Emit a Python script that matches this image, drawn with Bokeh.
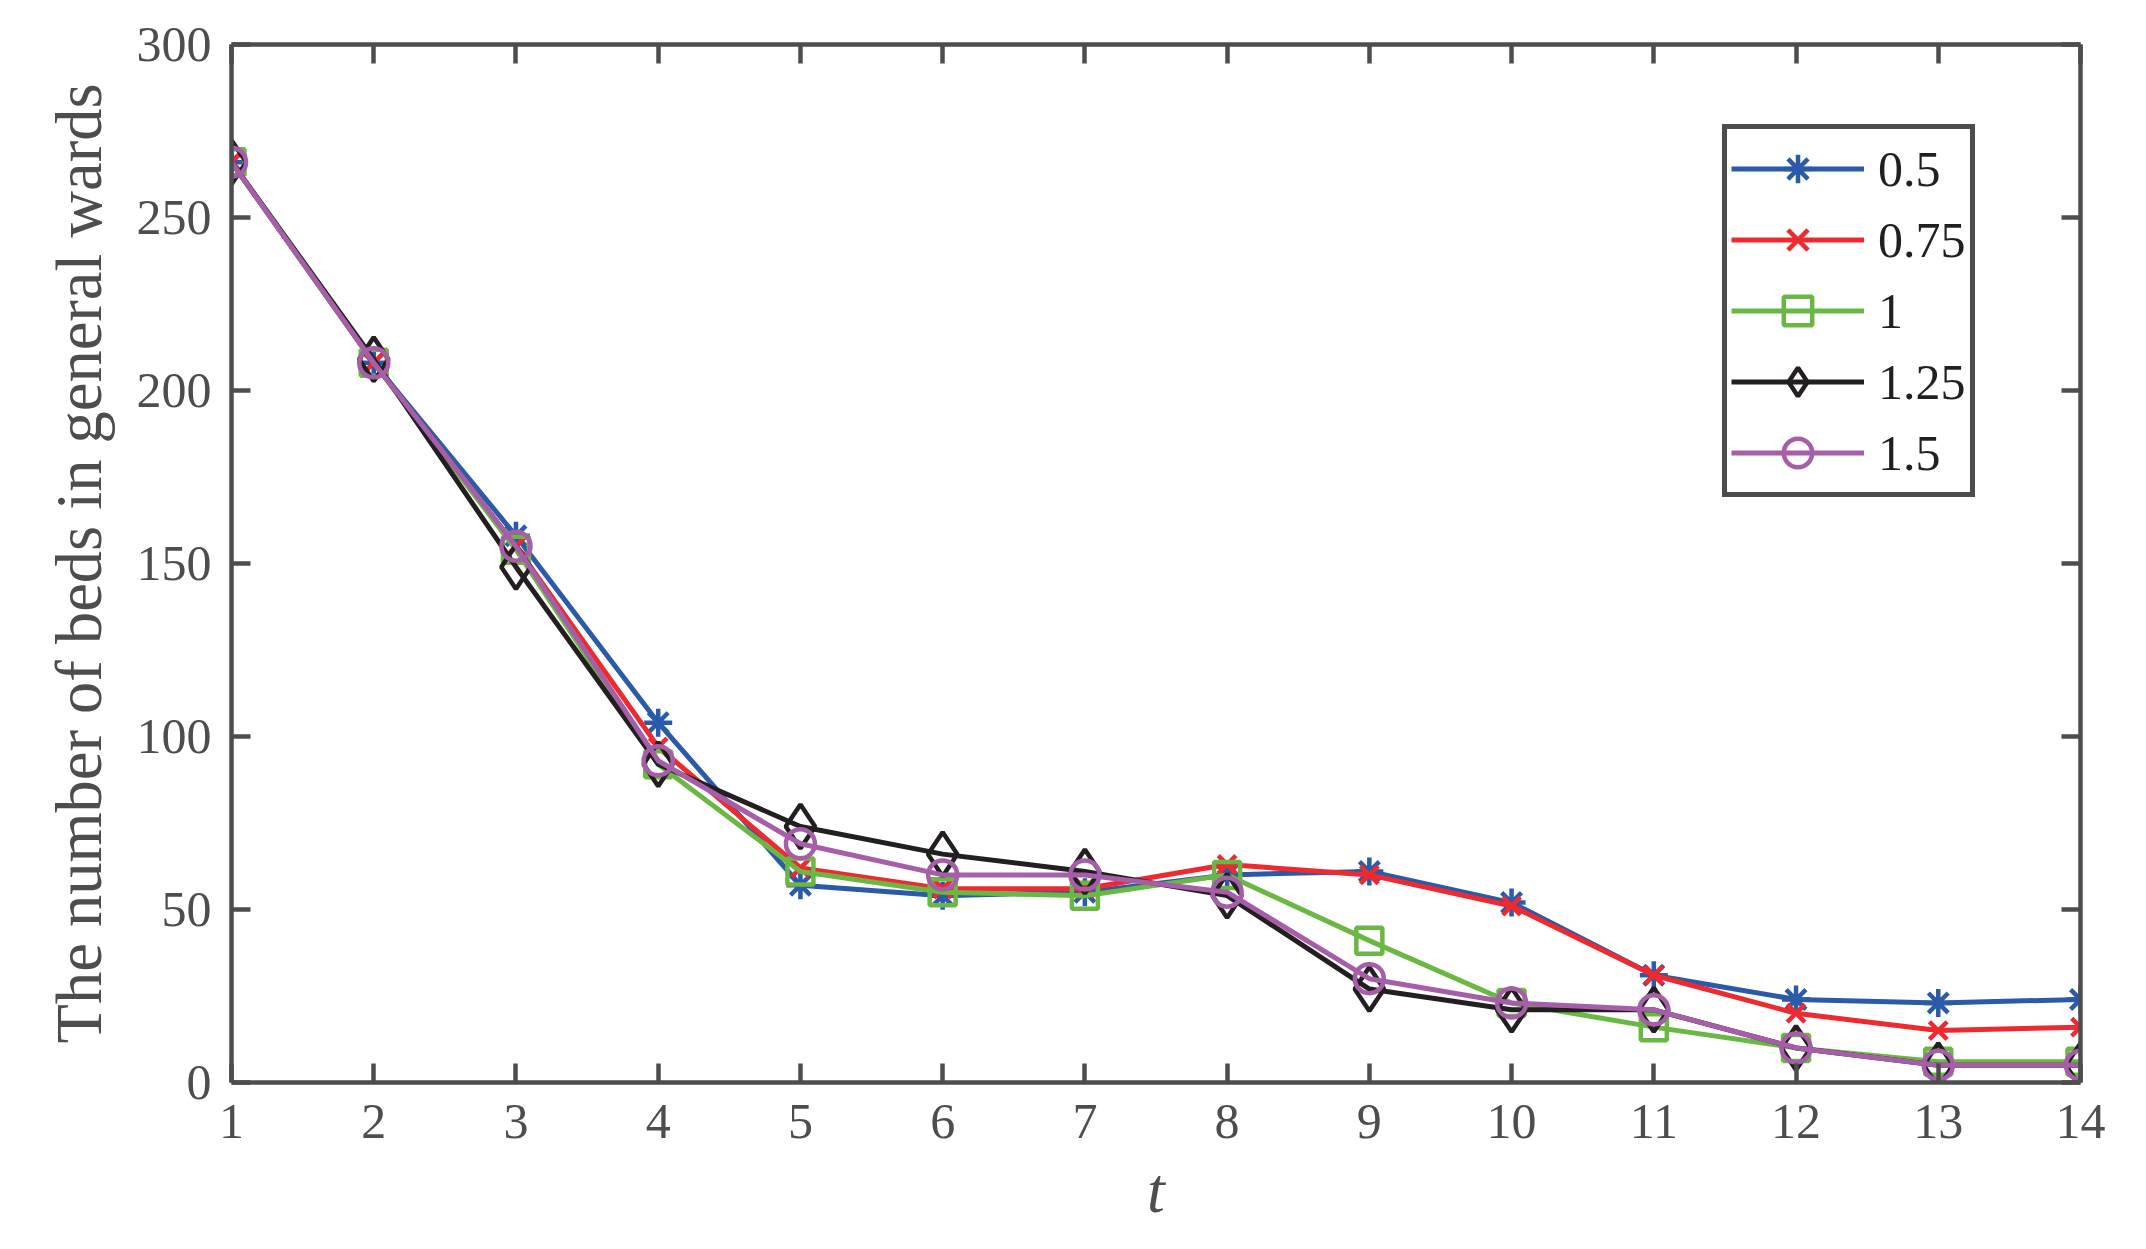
from bokeh.plotting import figure
from bokeh.models import Legend, LegendItem, LinearAxis, FixedTicker, Range1d
from bokeh.embed import file_html
from bokeh.resources import INLINE

t = list(range(1, 15))
s_05 = [266, 208, 158, 104, 57, 54, 55, 60, 61, 52, 31, 24, 23, 24]
s_075 = [266, 208, 155, 97, 62, 56, 56, 63, 60, 51, 31, 20, 15, 16]
s_1 = [266, 208, 154, 92, 61, 55, 54, 60, 41, 23, 16, 10, 6, 6]
s_125 = [266, 209, 149, 92, 74, 66, 61, 54, 27, 21, 21, 10, 5, 5]
s_15 = [266, 208, 155, 93, 69, 60, 60, 55, 30, 23, 21, 10, 5, 5]
labels = ["0.5", "0.75", "1", "1.25", "1.5"]
x_ticks = list(range(1, 15))
y_ticks = [0, 50, 100, 150, 200, 250, 300]

FONT = "'Liberation Serif', 'Times New Roman', serif"
AX = "#4d4d4d"

p = figure(width=2130, height=1233, output_backend="svg", toolbar_location=None,
           x_range=Range1d(1, 14), y_range=Range1d(0, 300),
           min_border_left=231, min_border_right=50, min_border_top=44, min_border_bottom=151)
p.background_fill_color = "white"
p.border_fill_color = "white"
p.outline_line_color = None
p.grid.visible = False

series = [
    (s_05, "#2a5aa8", "asterisk", 28),
    (s_075, "#ee2a30", "x", 25),
    (s_1, "#6ab843", "square", 26),
    (s_125, "#231f20", "diamond", 44),
    (s_15, "#a65ea8", "circle", 29),
]
items = []
for (ys, col, mk, sz), lab in zip(series, labels):
    ln = p.line(t, ys, line_color=col, line_width=5)
    sc = p.scatter(t, ys, marker=mk, size=sz, line_color=col, line_width=4.5, fill_color=None)
    items.append(LegendItem(label=lab, renderers=[ln, sc]))

def style_axis(ax, show_labels=True):
    ax.axis_line_color = AX
    ax.axis_line_width = 4.5
    ax.major_tick_line_color = AX
    ax.major_tick_line_width = 4.5
    ax.major_tick_in = 19
    ax.major_tick_out = 0
    ax.minor_tick_line_color = None
    ax.major_label_text_font = FONT
    if show_labels:
        ax.major_label_text_font_size = "50px"
        ax.major_label_text_color = AX
    else:
        ax.major_label_text_font_size = "0px"
        ax.major_label_text_color = None

xa = p.xaxis[0]
ya = p.yaxis[0]
xa.ticker = FixedTicker(ticks=x_ticks)
ya.ticker = FixedTicker(ticks=y_ticks)
style_axis(xa)
style_axis(ya)
xa.major_label_standoff = 22
ya.major_label_standoff = 20
xa.axis_label = "t"
xa.axis_label_text_font = FONT
xa.axis_label_text_font_style = "italic"
xa.axis_label_text_font_size = "64px"
xa.axis_label_text_color = AX
xa.axis_label_standoff = 14
ya.axis_label = "The number of beds in general wards"
ya.axis_label_text_font = FONT
ya.axis_label_text_font_style = "normal"
ya.axis_label_text_font_size = "64.5px"
ya.axis_label_text_color = AX
ya.axis_label_standoff = 19

top = LinearAxis(ticker=FixedTicker(ticks=x_ticks))
right = LinearAxis(ticker=FixedTicker(ticks=y_ticks))
style_axis(top, False)
style_axis(right, False)
p.add_layout(top, "above")
p.add_layout(right, "right")

legend = Legend(items=items, location=(1491, 585))
legend.label_text_font = FONT
legend.label_text_font_size = "50px"
legend.label_text_color = "#231f20"
legend.glyph_width = 133
legend.glyph_height = 71
legend.label_height = 71
legend.spacing = 0
legend.padding = 4
legend.margin = 0
legend.label_standoff = 14
legend.border_line_color = AX
legend.border_line_width = 5
legend.border_line_alpha = 1
legend.background_fill_color = "white"
legend.background_fill_alpha = 1
p.add_layout(legend, "center")

open("out.html", "w").write(file_html(p, INLINE))
